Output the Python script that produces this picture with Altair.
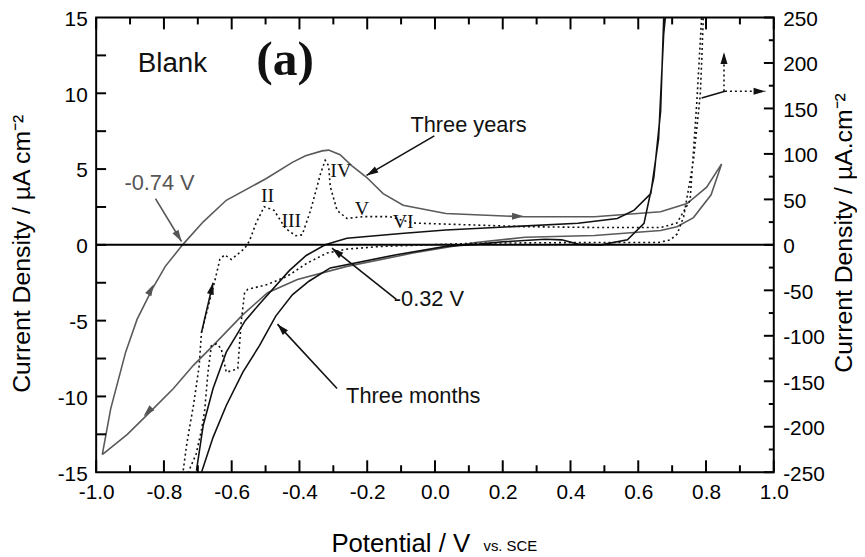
import math
import altair as alt
import pandas as pd

# ---------------------------------------------------------------- data
# Three years (grey solid), left axis, µA cm-2
yr_fwd_x = [-0.982, -0.957, -0.913, -0.879, -0.835, -0.796, -0.745, -0.684, -0.616, -0.499,
            -0.421, -0.382, -0.333, -0.314, -0.28, -0.246, -0.202, -0.153, -0.094, 0.032,
            0.266, 0.471, 0.666, 0.744, 0.802, 0.846]
yr_fwd_y = [-13.84, -10.8, -7.08, -4.9, -2.94, -1.42, 0.0, 1.52, 2.94, 4.36,
            5.44, 5.88, 6.2, 6.25, 5.95, 5.23, 4.46, 3.38, 2.61, 2.07,
            1.85, 1.85, 2.18, 2.72, 3.81, 5.34]
yr_rev_x = [0.815, 0.763, 0.714, 0.666, 0.471, 0.266, 0.12, -0.065, -0.26, -0.406,
            -0.494, -0.567, -0.655, -0.713, -0.772, -0.84, -0.908, -0.982]
yr_rev_y = [3.3, 1.8, 1.2, 0.95, 0.62, 0.5, 0.15, -0.54, -1.42, -2.29,
            -3.16, -4.6, -6.65, -7.95, -9.48, -11.0, -12.5, -13.84]

# Three months (black solid), left axis, µA cm-2
mo_fwd_x = [-0.689, -0.655, -0.616, -0.567, -0.518, -0.47, -0.421, -0.372, -0.309, -0.114,
            0.032, 0.13, 0.2, 0.325, 0.374, 0.422, 0.49, 0.568, 0.617, 0.646, 0.666, 0.675, 0.678]
mo_fwd_y = [-15.0, -12.7, -10.6, -8.39, -6.65, -4.7, -3.3, -2.4, -1.52, -0.65,
            -0.1, 0.05, 0.2, 0.37, 0.33, 0.05, 0.0, 0.33, 1.42, 4.46, 8.82, 14.9, 15.0]
mo_rev_x = [0.68, 0.675, 0.66, 0.637, 0.588, 0.538, 0.422, 0.227, 0.032, -0.1,
            -0.26, -0.324, -0.38, -0.43, -0.518, -0.56, -0.616, -0.655, -0.684, -0.704]
mo_rev_y = [15.0, 13.9, 7.0, 3.38, 2.29, 1.74, 1.42, 1.2, 0.98, 0.75,
            0.44, 0.0, -0.7, -1.7, -3.9, -5.0, -7.08, -9.48, -11.9, -14.9]

# Dotted curve, right axis, µA.cm-2
dot_fwd_x = [-0.743, -0.733, -0.723, -0.713, -0.704, -0.696, -0.692, -0.689, -0.65, -0.635,
             -0.621, -0.601, -0.562, -0.548, -0.528, -0.504, -0.475, -0.441, -0.411, -0.392,
             -0.367, -0.338, -0.324, -0.314, -0.309, -0.289, -0.26, -0.211, -0.134, -0.065,
             0.266, 0.5, 0.666, 0.714, 0.753, 0.773, 0.787]
dot_fwd_y = [-248, -220, -198, -177, -154, -133, -111, -96, -40, -16,
             -11, -16, -4, 4, 24, 42, 38, 18, 10, 11,
             38, 78, 93, 87, 64, 38, 29, 31, 31, 24,
             20, 19, 19, 24, 49, 158, 250]
dot_rev_x = [0.792, 0.787, 0.783, 0.763, 0.734, 0.715, 0.695, 0.66, 0.4, 0.12,
             -0.163, -0.26, -0.319, -0.377, -0.436, -0.494, -0.553, -0.562, -0.572, -0.582,
             -0.596, -0.616, -0.631, -0.645, -0.66, -0.67, -0.68, -0.69, -0.705, -0.728]
dot_rev_y = [250, 200, 165, 93, 31, 12, 5.5, 2.5, 2.5, 1.8,
             -1.8, -4.7, -9, -20, -34.5, -43.5, -49, -52.7, -85, -136,
             -138, -140, -114, -109, -111, -140, -183, -205, -230, -250]

# axis tick values / labels
x_labels = [-1.0, -0.8, -0.6, -0.4, -0.2, 0.0, 0.2, 0.4, 0.6, 0.8, 1.0]
x_minor = [-0.9, -0.7, -0.5, -0.3, -0.1, 0.1, 0.3, 0.5, 0.7, 0.9]
yl_labels = [-15, -10, -5, 0, 5, 10, 15]
yl_ticks = [-12.5, -10, -7.5, -5, -2.5, 0, 2.5, 5, 7.5, 10, 12.5]
yr_labels = [-250, -200, -150, -100, -50, 0, 50, 100, 150, 200, 250]
yr_minor = [-225, -175, -125, -75, -25, 25, 75, 125, 175, 225]

# annotations (text, x, y) in left-axis units
sans_text = ["Blank", "Three years", "Three months", "-0.32 V"]
sans_x = [-0.775, 0.099, -0.064, -0.018]
sans_y = [11.9, 7.9, -10.0, -3.6]
roman_text = ["II", "III", "IV", "V", "VI"]
roman_x = [-0.494, -0.424, -0.278, -0.216, -0.094]
roman_y = [3.2, 1.57, 4.84, 2.35, 1.5]

# annotation arrows: start (x, y) -> end (x2, y2)
arr_x = [-0.825, -0.002, -0.114, -0.289, -0.689, 0.787]
arr_y = [3.05, 7.19, -3.59, -9.48, -5.77, 9.69]
arr_x2 = [-0.748, -0.202, -0.304, -0.465, -0.655, 0.856]
arr_y2 = [0.22, 4.58, -0.22, -5.23, -2.5, 10.13]
arr_col = ["#555555", "#111111", "#111111", "#111111", "#111111", "#111111"]
darr_x = [0.853, 0.856]
darr_y = [10.13, 10.13]
darr_x2 = [0.853, 0.975]
darr_y2 = [12.7, 10.13]

# ---------------------------------------------------------------- helpers
W, H = 684, 459
SX = W / 2.0
SY = H / 30.0


def heading(x1, y1, x2, y2):
    return math.degrees(math.atan2((x2 - x1) * SX, (y2 - y1) * SY)) % 360


def loop(xf, yf, xr, yr, name):
    xs = list(xf) + list(xr)
    ys = list(yf) + list(yr)
    return pd.DataFrame({"x": xs, "y": ys, "i": list(range(len(xs))), "curve": name})


yr_df = loop(yr_fwd_x, yr_fwd_y, yr_rev_x, yr_rev_y, "Three years")
mo_df = loop(mo_fwd_x, mo_fwd_y, mo_rev_x, mo_rev_y, "Three months")
dot_df = loop(dot_fwd_x, dot_fwd_y, dot_rev_x, dot_rev_y, "dotted")

arr_df = pd.DataFrame({"x": arr_x, "y": arr_y, "x2": arr_x2, "y2": arr_y2, "c": arr_col})
darr_df = pd.DataFrame({"x": darr_x, "y": darr_y, "x2": darr_x2, "y2": darr_y2})

head_rows = []
for k in range(5):
    head_rows.append((arr_x2[k], arr_y2[k], heading(arr_x[k], arr_y[k], arr_x2[k], arr_y2[k]), arr_col[k]))
for k in range(2):
    head_rows.append((darr_x2[k], darr_y2[k], heading(darr_x[k], darr_y[k], darr_x2[k], darr_y2[k]), "#111111"))
head_rows.append((-0.83, -2.6, heading(-0.879, -4.9, -0.796, -1.42), "#555555"))
head_rows.append((-0.86, -11.3, heading(-0.772, -9.48, -0.908, -12.5), "#555555"))
head_rows.append((0.262, 1.88, heading(0.0, 1.95, 0.3, 1.85), "#555555"))
head_df = pd.DataFrame(head_rows, columns=["x", "y", "ang", "c"])

ARROW = "M0,0L0.6,2L-0.6,2Z"

xsc = alt.Scale(domain=[-1, 1], nice=False, zero=False)
ylsc = alt.Scale(domain=[-15, 15], nice=False, zero=False)
yrsc = alt.Scale(domain=[-250, 250], nice=False, zero=False)
FIX = "replace(datum.label, '\u2212', '-')"

x_axis = alt.Axis(values=x_labels, format=".1f", labelExpr=FIX, ticks=False, domain=False,
                  grid=False, labelFontSize=21, labelPadding=10, labelFlush=False,
                  title="Potential / V", titleFontSize=26, titleFontWeight="normal",
                  titleX=307, titleY=80, titleBaseline="alphabetic", titleAlign="center")
yl_axis = alt.Axis(values=yl_labels, labelExpr=FIX, ticks=False, domain=False, grid=False,
                   labelFontSize=21, labelPadding=9, labelFlush=False, labelOffset=2,
                   title="Current Density / µA cm⁻²", titleFontSize=25, titleFontWeight="normal",
                   titleAngle=270, titleX=-75, titleY=238, titleBaseline="middle",
                   titleAlign="center")
yr_axis = alt.Axis(orient="right", values=yr_labels, labelExpr=FIX, ticks=False, domain=False,
                   grid=False, labelFontSize=21, labelPadding=9, labelFlush=False, labelOffset=2,
                   title="Current Density / µA.cm⁻²", titleFontSize=25,
                   titleFontWeight="normal", titleAngle=270, titleX=70, titleY=217,
                   titleBaseline="middle", titleAlign="center")

X = alt.X("x:Q", scale=xsc, axis=x_axis)
YL = alt.Y("y:Q", scale=ylsc, axis=yl_axis)
YR = alt.Y("y:Q", scale=yrsc, axis=yr_axis)

# ---------------------------------------------------------------- left-axis layers
yr_line = alt.Chart(yr_df).mark_line(color="#5a5a5a", strokeWidth=1.6, clip=True).encode(
    x=X, y=YL, order="i:Q")
mo_line = alt.Chart(mo_df).mark_line(color="#111111", strokeWidth=1.6, clip=True).encode(
    x=X, y=YL, order="i:Q")
zero = alt.Chart(pd.DataFrame({"y": [0]})).mark_rule(color="black", strokeWidth=2).encode(y=YL)

xt_major = pd.DataFrame({"x": x_labels})
xt_minor = pd.DataFrame({"x": x_minor})
ticks_b1 = alt.Chart(xt_major).mark_rule(color="black", strokeWidth=2).encode(
    x=X, y=alt.value(H), y2=alt.value(H - 12))
ticks_b2 = alt.Chart(xt_minor).mark_rule(color="black", strokeWidth=2).encode(
    x=X, y=alt.value(H), y2=alt.value(H - 7))
ticks_t1 = alt.Chart(xt_major).mark_rule(color="black", strokeWidth=2).encode(
    x=X, y=alt.value(0), y2=alt.value(12))
ticks_t2 = alt.Chart(xt_minor).mark_rule(color="black", strokeWidth=2).encode(
    x=X, y=alt.value(0), y2=alt.value(7))
ticks_l = alt.Chart(pd.DataFrame({"y": yl_ticks})).mark_rule(color="black", strokeWidth=2).encode(
    y=YL, x=alt.value(0), x2=alt.value(10))

arrows = alt.Chart(arr_df).mark_rule(strokeWidth=1.6).encode(
    x=X, y=YL, x2="x2:Q", y2="y2:Q", color=alt.Color("c:N", scale=None))
darrows = alt.Chart(darr_df).mark_rule(strokeWidth=1.6, strokeDash=[2, 3], color="#111111").encode(
    x=X, y=YL, x2="x2:Q", y2="y2:Q")
heads = alt.Chart(head_df).mark_point(shape=ARROW, filled=True, size=140, opacity=1,
                                      strokeWidth=0).encode(
    x=X, y=YL, angle=alt.Angle("ang:Q", scale=None), color=alt.Color("c:N", scale=None))

sans_df = pd.DataFrame({"t": sans_text, "x": sans_x, "y": sans_y,
                        "s": [28, 22, 22, 22]})
sans = alt.Chart(sans_df).mark_text(font="Liberation Sans", color="#111111", align="center",
                                    baseline="middle").encode(
    x=X, y=YL, text="t:N", size=alt.Size("s:Q", scale=None))
lbl074 = alt.Chart(pd.DataFrame({"t": ["-0.74 V"], "x": [-0.813], "y": [4.05]})).mark_text(
    font="Liberation Sans", fontSize=22, color="#555555", align="center", baseline="middle").encode(
    x=X, y=YL, text="t:N")
roman = alt.Chart(pd.DataFrame({"t": roman_text, "x": roman_x, "y": roman_y})).mark_text(
    font="Liberation Serif", fontSize=20, color="#111111", align="center", baseline="middle").encode(
    x=X, y=YL, text="t:N")
panel = alt.Chart(pd.DataFrame({"t": ["(a)"], "x": [-0.442], "y": [12.16]})).mark_text(
    font="Liberation Serif", fontSize=50, fontWeight="bold", color="#111111", align="center",
    baseline="middle").encode(x=X, y=YL, text="t:N")
subscr = alt.Chart(pd.DataFrame({"t": ["vs. SCE"]})).mark_text(
    font="Liberation Sans", fontSize=15, color="black", align="center", baseline="middle").encode(
    x=alt.value(418), y=alt.value(534), text="t:N")

left = alt.layer(yr_line, mo_line, zero, ticks_b1, ticks_b2, ticks_t1, ticks_t2, ticks_l,
                 arrows, darrows, heads, sans, lbl074, roman, panel, subscr)

# ---------------------------------------------------------------- right-axis layers
dot_line = alt.Chart(dot_df).mark_line(color="#111111", strokeWidth=1.6, strokeDash=[2, 3],
                                       clip=True).encode(x=X, y=YR, order="i:Q")
ticks_r1 = alt.Chart(pd.DataFrame({"y": yr_labels})).mark_rule(color="black", strokeWidth=2).encode(
    y=YR, x=alt.value(W), x2=alt.value(W - 10))
ticks_r2 = alt.Chart(pd.DataFrame({"y": yr_minor})).mark_rule(color="black", strokeWidth=2).encode(
    y=YR, x=alt.value(W), x2=alt.value(W - 5))
right = alt.layer(dot_line, ticks_r1, ticks_r2)

chart = alt.layer(left, right).resolve_scale(y="independent").properties(
    width=W, height=H,
    autosize=alt.AutoSizeParams(type="none"),
    padding={"left": 89, "top": 7, "right": 84, "bottom": 83},
    background="white",
).configure_view(stroke="black", strokeWidth=2).configure_axis(
    labelFont="Liberation Sans", titleFont="Liberation Sans", labelColor="black",
    titleColor="black")

chart.save("out.html", embed_options={"renderer": "svg", "actions": False})
